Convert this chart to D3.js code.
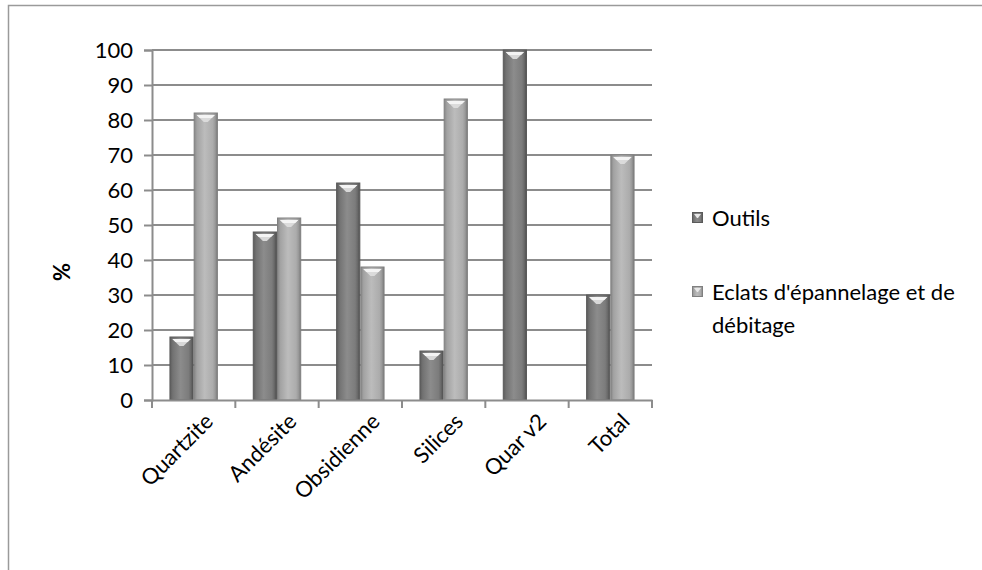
<!DOCTYPE html>
<html>
<head>
<meta charset="utf-8">
<script src="https://cdn.jsdelivr.net/npm/d3@7"></script>
<style>
  html, body { margin: 0; padding: 0; background: #fff; }
  svg { display: block; font-family: Lato, "Open Sans", sans-serif; }
</style>
</head>
<body>
<svg id="chart" width="982" height="570"></svg>
<script>
// Categories and series values (%)
const categories = ["Quartzite", "Andésite", "Obsidienne", "Silices", "Quar v2", "Total"];
const outils = [18, 48, 62, 14, 100, 30];
const eclats = [82, 52, 38, 86, 0, 70];
const seriesNames = ["Outils", "Eclats d'épannelage et de débitage"];
const yTicks = [0, 10, 20, 30, 40, 50, 60, 70, 80, 90, 100];

const svg = d3.select("#chart");
const margin = { left: 152, top: 50, right: 330, bottom: 170 };
const W = 982, H = 570;
const plotW = W - margin.left - margin.right;
const plotH = H - margin.top - margin.bottom;
const FS = 22;

// Chart frame
svg.append("rect")
  .attr("x", 8.5).attr("y", 5.5)
  .attr("width", 1000).attr("height", 600)
  .attr("fill", "none").attr("stroke", "#9a9a9a").attr("stroke-width", 1.5);

const defs = svg.append("defs");
function gradient(id, stops) {
  const g = defs.append("linearGradient").attr("id", id)
    .attr("x1", "0%").attr("x2", "100%").attr("y1", "0%").attr("y2", "0%");
  stops.forEach(([o, c]) => g.append("stop").attr("offset", o).attr("stop-color", c));
}
gradient("gOutils", [["0%", "#5c5c5c"], ["12%", "#727272"], ["45%", "#8c8c8c"], ["80%", "#7c7c7c"], ["90%", "#6a6a6a"], ["100%", "#4e4e4e"]]);
gradient("gEclats", [["0%", "#868686"], ["12%", "#a2a2a2"], ["45%", "#bcbcbc"], ["80%", "#acacac"], ["90%", "#9a9a9a"], ["100%", "#7a7a7a"]]);
const fills = ["url(#gOutils)", "url(#gEclats)"];
const strokes = ["#5a5a5a", "#808080"];

const g = svg.append("g").attr("transform", `translate(${margin.left},${margin.top})`);

const x = d3.scaleBand().domain(categories).range([0, plotW]).paddingInner(0).paddingOuter(0);
const x1 = d3.scaleBand().domain([0, 1]).range([0, x.bandwidth()]).paddingInner(0).paddingOuter(0.72);
const y = d3.scaleLinear().domain([0, 100]).range([plotH, 0]);

// Horizontal gridlines
g.append("g").selectAll("line").data(yTicks.filter(d => d > 0)).join("line")
  .attr("x1", 0).attr("x2", plotW)
  .attr("y1", d => y(d)).attr("y2", d => y(d))
  .attr("stroke", "#8c8c8c").attr("stroke-width", 2);

// Y axis
const yAxis = g.append("g")
  .call(d3.axisLeft(y).tickValues(yTicks).tickSize(8).tickPadding(11));
yAxis.select(".domain").attr("stroke", "#8c8c8c").attr("stroke-width", 2);
yAxis.selectAll(".tick line").attr("stroke", "#8c8c8c").attr("stroke-width", 2);
yAxis.selectAll(".tick text").attr("font-size", FS).attr("fill", "#000")
  .attr("font-family", "Lato, 'Open Sans', sans-serif");

// Bars
const rows = categories.map((c, i) => ({ c, vals: [outils[i], eclats[i]] }));
const groups = g.append("g").selectAll("g").data(rows).join("g")
  .attr("transform", d => `translate(${x(d.c)},0)`);

groups.each(function (d) {
  const grp = d3.select(this);
  d.vals.forEach((v, s) => {
    if (v <= 0) return;
    const bx = x1(s), bw = x1.bandwidth(), by = y(v), bh = y(0) - y(v);
    grp.append("rect")
      .attr("x", bx + 0.5).attr("y", by).attr("width", bw - 1).attr("height", bh)
      .attr("fill", fills[s]).attr("stroke", strokes[s]).attr("stroke-width", 1);
    // bevelled top cap
    const capD = Math.min(9, bh);
    grp.append("path")
      .attr("d", `M${bx + 3},${by + 2} L${bx + bw - 3},${by + 2} L${bx + bw / 2 + 2},${by + capD} L${bx + bw / 2 - 2},${by + capD} Z`)
      .attr("fill", "#dcdcdc").attr("opacity", 0.95);
    grp.append("path")
      .attr("d", `M${bx + 3},${by + 2} L${bx + bw - 3},${by + 2} L${bx + bw - 6},${by + 5} L${bx + 6},${by + 5} Z`)
      .attr("fill", "#f4f4f4");
  });
});

// X axis
const xAxis = g.append("g").attr("transform", `translate(0,${plotH})`)
  .call(d3.axisBottom(x).tickSize(0).tickFormat(""));
xAxis.select(".domain").attr("stroke", "#8c8c8c").attr("stroke-width", 2);
g.append("g").selectAll("line").data(d3.range(categories.length + 1)).join("line")
  .attr("x1", i => i * x.step()).attr("x2", i => i * x.step())
  .attr("y1", plotH).attr("y2", plotH + 8)
  .attr("stroke", "#8c8c8c").attr("stroke-width", 2);

// Rotated category labels
g.append("g").selectAll("text").data(categories).join("text")
  .attr("transform", d => `translate(${x(d) + x.bandwidth() / 2 + 10},${plotH + 12}) rotate(-45)`)
  .attr("text-anchor", "end").attr("dy", "0.7em")
  .attr("font-size", FS).attr("fill", "#000")
  .text(d => d);

// Y axis title
svg.append("text")
  .attr("transform", `translate(70,272) rotate(-90)`)
  .attr("text-anchor", "middle")
  .attr("font-size", FS).attr("font-weight", "bold")
  .text("%");

// Legend
const legend = svg.append("g").attr("transform", "translate(692,0)");
const legendItems = [
  { name: seriesNames[0], lines: ["Outils"], y: 218 },
  { name: seriesNames[1], lines: ["Eclats d'épannelage et de", "débitage"], y: 292 }
];
legendItems.forEach((it, s) => {
  legend.append("rect")
    .attr("x", 0.5).attr("y", it.y - 5.5).attr("width", 10).attr("height", 10)
    .attr("fill", fills[s]).attr("stroke", strokes[s]);
  legend.append("path")
    .attr("d", `M2,${it.y - 4} L9,${it.y - 4} L6,${it.y} L5,${it.y} Z`)
    .attr("fill", "#e8e8e8");
  const t = legend.append("text").attr("x", 20).attr("y", it.y)
    .attr("font-size", FS).attr("fill", "#000");
  it.lines.forEach((ln, k) => {
    t.append("tspan").attr("x", 20).attr("dy", k === 0 ? "0.35em" : 33).text(ln);
  });
});
</script>
</body>
</html>
